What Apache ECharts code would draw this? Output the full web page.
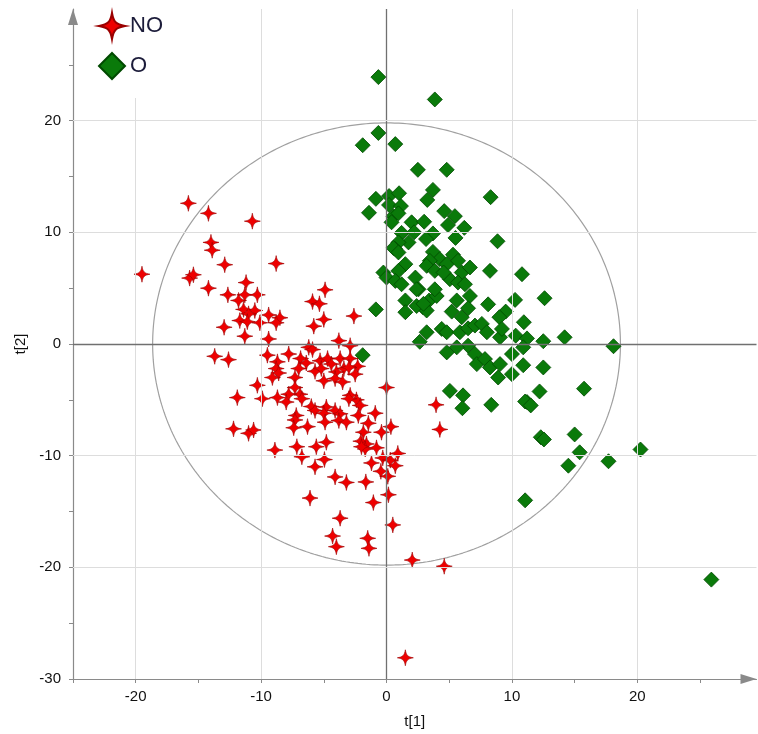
<!DOCTYPE html>
<html>
<head>
<meta charset="utf-8">
<script src="https://cdn.jsdelivr.net/npm/echarts@6/dist/echarts.min.js"></script>
<style>
html,body{margin:0;padding:0;background:#fff;}
#chart{width:758px;height:734px;}
</style>
</head>
<body>
<div id="chart"></div>
<script>
// ---- data ----
const seriesNames = ['NO', 'O'];
const noPoints = [
[-15.8,12.6],[-14.2,11.7],[-10.7,11.0],[-14.0,9.1],[-13.9,8.4],[-12.9,7.1],[-8.8,7.2],[-19.5,6.25],[-15.7,5.9],[-15.4,6.2],
[-14.2,5.0],[-11.2,5.5],[-12.65,4.4],[-11.8,3.9],[-11.3,4.4],[-10.3,4.4],[-11.4,3.1],[-10.5,3.0],[-11.0,2.7],[-9.4,2.6],
[-8.5,2.35],[-11.7,2.1],[-11.1,2.0],[-10.1,1.9],[-8.8,1.9],[-12.95,1.5],[-5.8,1.6],[-11.3,0.7],[-9.4,0.45],[-5.9,3.8],
[-5.35,3.6],[-6.2,-0.3],[-5.9,-0.5],[-13.7,-1.1],[-12.6,-1.4],[-9.5,-1.0],[-7.8,-0.9],[-4.9,4.85],[-2.6,2.5],[-5.0,2.2],
[-3.8,0.3],[-2.9,-0.15],[-8.7,-1.6],[-8.8,-2.2],[-8.6,-2.6],[-9.1,-3.0],[-6.85,-1.3],[-5.3,-1.5],[-4.7,-1.3],[-4.4,-1.8],
[-3.7,-1.3],[-2.9,-1.3],[-2.3,-2.0],[-2.5,-2.7],[-3.4,-2.2],[-6.4,-1.7],[-5.7,-2.45],[-5.2,-2.2],[-4.0,-2.5],[-4.1,-3.1],
[-5.0,-3.3],[-3.5,-3.4],[-3.0,-2.1],[-7.0,-2.2],[-7.3,-3.0],[0.0,-3.9],[-7.3,-3.9],[-6.9,-4.5],[-7.8,-4.5],[-6.75,-4.9],
[-8.7,-4.8],[-8.0,-5.2],[-2.9,-4.6],[-2.4,-5.0],[-2.1,-5.5],[-3.0,-4.9],[-6.0,-5.6],[-5.7,-5.95],[-4.8,-5.65],[-4.1,-5.95],
[-3.7,-6.25],[-5.0,-6.2],[-7.2,-6.4],[-7.3,-6.8],[-7.4,-7.5],[-6.3,-7.4],[-4.9,-7.0],[-3.8,-6.85],[-3.2,-7.0],[-2.25,-6.4],
[-0.9,-6.2],[-1.45,-7.1],[-0.4,-7.9],[0.35,-7.4],[-8.9,-9.5],[-7.15,-9.2],[-6.75,-10.1],[-5.7,-11.0],[-5.6,-9.2],[-4.8,-8.8],
[-4.95,-10.35],[-4.1,-11.9],[-3.2,-12.4],[-1.85,-7.9],[-2.05,-8.7],[-1.6,-8.95],[-1.7,-9.4],[-2.0,-9.2],[-0.8,-9.3],[-0.3,-10.2],
[0.3,-10.4],[0.7,-10.9],[0.9,-9.8],[-1.2,-10.65],[-0.45,-11.4],[0.1,-11.85],[-10.3,-3.7],[-11.9,-4.8],[-9.9,-4.9],[-12.2,-7.6],
[-11.0,-8.0],[-10.6,-7.7],[-6.1,-13.8],[-1.65,-12.35],[-1.05,-14.2],[0.15,-13.5],[-3.7,-15.6],[0.5,-16.2],[-4.3,-17.2],[-4.0,-18.15],
[-1.5,-17.4],[-1.4,-18.3],[2.05,-19.35],[4.6,-19.9],[1.5,-28.1],[3.95,-5.45],[4.25,-7.65]
];
const oPoints = [
[-0.65,23.9],[3.85,21.9],[-0.65,18.9],[-1.9,17.8],[0.7,17.9],[2.5,15.6],[4.8,15.6],[3.7,13.8],[3.25,12.9],[8.3,13.15],
[-0.85,13.0],[0.2,13.25],[1.0,13.5],[0.2,12.45],[1.15,12.35],[-1.4,11.75],[0.55,11.45],[0.95,11.7],[0.4,10.9],[2.0,10.9],
[3.0,10.95],[4.6,11.9],[5.45,11.45],[4.9,10.65],[6.2,10.4],[1.2,9.95],[2.2,10.0],[3.7,9.9],[3.15,9.4],[1.75,9.1],
[5.5,9.5],[8.85,9.2],[0.95,9.1],[0.7,8.5],[3.7,8.25],[5.3,8.0],[0.55,8.6],[0.95,8.2],[1.5,7.15],[0.95,6.55],
[-0.25,6.4],[0.0,5.95],[0.7,5.65],[1.2,5.35],[2.3,5.95],[2.55,4.9],[4.25,7.6],[3.45,7.45],[3.2,7.0],[3.85,6.55],
[4.8,7.15],[5.7,7.45],[6.0,6.4],[6.65,6.85],[5.05,5.8],[5.7,5.5],[6.25,5.35],[4.55,6.4],[8.25,6.55],[10.8,6.25],
[12.6,4.1],[10.25,3.95],[10.95,1.95],[9.5,2.9],[9.0,2.4],[8.1,3.55],[6.65,4.3],[5.6,3.9],[6.5,3.2],[5.2,2.9],
[6.0,2.4],[2.9,3.3],[3.4,3.9],[1.5,3.9],[1.5,2.85],[4.0,4.3],[3.85,4.9],[3.2,1.05],[2.65,0.2],[4.4,1.35],
[4.8,1.05],[5.85,1.05],[6.5,1.4],[7.05,1.65],[7.6,1.8],[8.0,1.05],[9.05,0.6],[9.2,1.35],[10.3,0.75],[11.2,0.5],
[12.5,0.25],[14.2,0.6],[10.9,-0.3],[6.5,-0.15],[5.6,-0.3],[4.8,-0.75],[7.05,-0.9],[7.2,-1.8],[7.85,-1.35],[8.25,-2.1],
[8.9,-3.0],[9.05,-1.8],[10.0,-0.9],[10.0,-2.7],[10.9,-1.9],[12.5,-2.1],[12.2,-4.25],[11.2,-5.2],[8.35,-5.45],[6.1,-4.6],
[5.05,-4.2],[-0.85,3.1],[-1.9,-1.0],[2.4,4.9],[2.4,3.4],[3.2,3.0],[2.95,3.6],[6.05,-5.75],[11.05,-5.15],[11.5,-5.5],
[15.75,-4.0],[12.3,-8.35],[12.55,-8.55],[15.0,-8.1],[15.4,-9.7],[14.5,-10.9],[17.7,-10.5],[20.25,-9.45],[11.05,-14.0],[25.9,-21.1],
[18.1,-0.2]
];
const xTickValues = [-25,-20,-15,-10,-5,0,5,10,15,20,25];
const xTickLabels = [-20,-10,0,10,20];
const yTickValues = [-30,-25,-20,-15,-10,-5,0,5,10,15,20,25];
const yTickLabels = [-30,-20,-10,0,10,20];
const ellipseRadiusT1 = 18.65;
const ellipseRadiusT2 = 19.8;

// ---- derived ----
const ellipse = [];
for (let i = 0; i <= 360; i++) {
  const a = i * Math.PI / 180;
  ellipse.push([ellipseRadiusT1 * Math.cos(a), ellipseRadiusT2 * Math.sin(a)]);
}
const gridColor = '#dddddd';
const zeroColor = '#707070';
const markData = [];
xTickLabels.forEach(v => markData.push({xAxis: v, lineStyle: {type: 'solid', color: v === 0 ? zeroColor : gridColor, width: v === 0 ? 1.3 : 1}}));
yTickLabels.filter(v => v !== -30).forEach(v => markData.push({yAxis: v, lineStyle: {type: 'solid', color: v === 0 ? zeroColor : gridColor, width: v === 0 ? 1.3 : 1}}));

const starPath = 'path://M0,-10 C1.2,-3 3,-1.2 10,0 C3,1.2 1.2,3 0,10 C-1.2,3 -3,1.2 -10,0 C-3,-1.2 -1.2,-3 0,-10 Z';
const font = '"Liberation Sans", Arial, Helvetica, sans-serif';

const chart = echarts.init(document.getElementById('chart'), null, {renderer: 'canvas'});
const axisCommon = {
  type: 'value',
  axisLine: {show: true, onZero: false, lineStyle: {color: '#8a8a8a', width: 1.2}, symbol: ['none', 'triangle'], symbolSize: [10, 16], symbolOffset: [0, -8]},
  axisTick: {show: true, inside: false, length: 4, lineStyle: {color: '#8a8a8a'}},
  axisLabel: {color: '#111', fontSize: 15, fontFamily: font},
  splitLine: {show: false},
  nameLocation: 'middle',
  nameTextStyle: {color: '#111', fontSize: 15, fontFamily: font}
};
chart.setOption({
  animation: false,
  backgroundColor: '#fff',
  grid: {left: 73, right: 1.5, top: 9, bottom: 53, containLabel: false},
  legend: {
    orient: 'vertical', left: 80, top: 0, z: 20,
    padding: [12, 30, 18, 18],
    backgroundColor: '#fff',
    itemWidth: 26, itemHeight: 26, itemGap: 12,
    textStyle: {fontSize: 22, color: '#1c1c3a', fontFamily: font},
    data: seriesNames
  },
  xAxis: Object.assign({}, axisCommon, {
    min: -25, max: 29.5, name: 't[1]', nameGap: 35,
    axisTick: Object.assign({}, axisCommon.axisTick, {customValues: xTickValues}),
    axisLabel: Object.assign({}, axisCommon.axisLabel, {margin: 10, customValues: xTickLabels})
  }),
  yAxis: Object.assign({}, axisCommon, {
    min: -30, max: 30, name: 't[2]', nameGap: 34,
    axisTick: Object.assign({}, axisCommon.axisTick, {customValues: yTickValues}),
    axisLabel: Object.assign({}, axisCommon.axisLabel, {margin: 12, customValues: yTickLabels})
  }),
  series: [
    {
      type: 'line', data: ellipse, showSymbol: false, symbol: 'none', smooth: false,
      lineStyle: {color: '#a0a0a0', width: 1.2}, silent: true, z: 1,
      markLine: {silent: true, symbol: ['none', 'none'], label: {show: false}, data: markData, animation: false}
    },
    {
      name: seriesNames[0], type: 'scatter', data: noPoints, symbol: starPath, symbolSize: 16, z: 3,
      itemStyle: {color: '#ee0000', borderColor: '#9a0000', borderWidth: 0.6, opacity: 1}
    },
    {
      name: seriesNames[1], type: 'scatter', data: oPoints, symbol: 'diamond', symbolSize: 15, z: 2,
      itemStyle: {color: '#0a7a0a', borderColor: '#004a00', borderWidth: 0.8, opacity: 1}
    }
  ]
});
</script>
</body>
</html>
